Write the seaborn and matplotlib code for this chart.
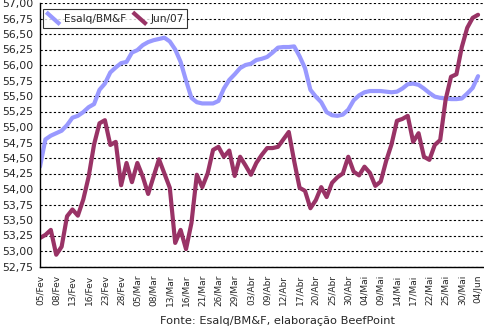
import matplotlib
matplotlib.use("Agg")
import matplotlib.pyplot as plt
import seaborn as sns
import pandas as pd
import numpy as np
from matplotlib.lines import Line2D
from matplotlib.legend_handler import HandlerBase

# ---- data ----
tick_labels = ["05/Fev", "08/Fev", "13/Fev", "16/Fev", "23/Fev", "28/Fev", "05/Mar",
               "08/Mar", "13/Mar", "16/Mar", "21/Mar", "26/Mar", "29/Mar", "03/Abr",
               "09/Abr", "12/Abr", "17/Abr", "20/Abr", "25/Abr", "30/Abr", "04/Mai",
               "09/Mai", "14/Mai", "17/Mai", "22/Mai", "25/Mai", "30/Mai", "04/Jun"]

esalq = [54.36, 54.80, 54.86, 54.90, 54.94, 55.03, 55.15, 55.18, 55.24, 55.32,
         55.37, 55.60, 55.70, 55.88, 55.96, 56.03, 56.05, 56.20, 56.24, 56.32,
         56.37, 56.40, 56.42, 56.44, 56.38, 56.25, 56.05, 55.75, 55.47, 55.40,
         55.38, 55.38, 55.38, 55.42, 55.62, 55.76, 55.85, 55.95, 56.00, 56.02,
         56.08, 56.10, 56.13, 56.20, 56.28, 56.29, 56.29, 56.30, 56.14, 55.95,
         55.60, 55.49, 55.40, 55.24, 55.19, 55.18, 55.20, 55.28, 55.43, 55.51,
         55.56, 55.58, 55.58, 55.58, 55.57, 55.56, 55.57, 55.62, 55.69, 55.70,
         55.68, 55.62, 55.55, 55.49, 55.47, 55.46, 55.45, 55.45, 55.46, 55.54,
         55.63, 55.82]

jun07 = [53.21, 53.26, 53.34, 52.94, 53.07, 53.56, 53.67, 53.57, 53.83, 54.20,
         54.72, 55.06, 55.11, 54.71, 54.76, 54.06, 54.42, 54.11, 54.42, 54.20,
         53.92, 54.20, 54.48, 54.25, 54.02, 53.13, 53.34, 53.03, 53.45, 54.23,
         54.03, 54.25, 54.63, 54.68, 54.52, 54.62, 54.21, 54.52, 54.38, 54.23,
         54.42, 54.55, 54.66, 54.66, 54.68, 54.80, 54.92, 54.45, 54.02, 53.97,
         53.69, 53.82, 54.03, 53.87, 54.10, 54.19, 54.25, 54.52, 54.28, 54.22,
         54.36, 54.26, 54.05, 54.12, 54.45, 54.72, 55.10, 55.13, 55.18, 54.76,
         54.90, 54.52, 54.47, 54.71, 54.79, 55.44, 55.81, 55.85, 56.29, 56.60,
         56.76, 56.81]

y_ticks = [52.75, 53.00, 53.25, 53.50, 53.75, 54.00, 54.25, 54.50, 54.75,
           55.00, 55.25, 55.50, 55.75, 56.00, 56.25, 56.50, 56.75, 57.00]

series_names = ["Esalq/BM&F", "Jun/07"]
colors = ["#9999FF", "#993366"]

# ---- figure ----
sns.set_style("white")
plt.rcParams['font.family'] = ['DejaVu Sans']

fig = plt.figure(figsize=(4.84, 3.27), dpi=100)
ax = fig.add_axes([40 / 484, 1 - 266.5 / 327, 444 / 484, 263.5 / 327])

idx = np.arange(len(esalq))
df = pd.DataFrame({"idx": np.concatenate([idx, idx]),
                   "value": esalq + jun07,
                   "serie": [series_names[0]] * len(esalq) + [series_names[1]] * len(jun07)})

sns.lineplot(data=df, x="idx", y="value", hue="serie", palette=colors,
             hue_order=series_names, linewidth=3.0, ax=ax, legend=False)

ax.set_xlim(0, 82.1)
ax.set_ylim(52.75, 57.0)

# gridlines
ax.set_yticks(y_ticks)
ax.set_yticklabels([f"{v:.2f}".replace(".", ",") for v in y_ticks], fontsize=7.8)
ax.yaxis.grid(True, color="black", linestyle=(0, (2, 2)), linewidth=0.8)
ax.xaxis.grid(False)
ax.set_axisbelow(True)

xt = list(range(len(esalq)))
ax.set_xticks(xt)
labels = []
k = 0
for i in xt:
    if i % 3 == 0 and k < len(tick_labels):
        labels.append(tick_labels[k]); k += 1
    else:
        labels.append("")
ax.set_xticklabels(labels, rotation=90, fontsize=6.5)

ax.tick_params(axis="x", direction="out", length=4, width=0.8, color="black", pad=2)
ax.tick_params(axis="y", direction="out", length=4, width=0.8, color="black", pad=1)
ax.set_xlabel("")
ax.set_ylabel("")

for s in ["top", "right"]:
    ax.spines[s].set_visible(False)
for s in ["left", "bottom"]:
    ax.spines[s].set_color("black")
    ax.spines[s].set_linewidth(1.0)


class DiagHandler(HandlerBase):
    def create_artists(self, legend, orig_handle, xdescent, ydescent, width, height, fontsize, trans):
        x0, y0 = -xdescent, -ydescent
        ln = Line2D([x0, x0 + width], [y0 + height, y0], color=orig_handle.get_color(),
                    linewidth=orig_handle.get_linewidth(), solid_capstyle="butt")
        ln.set_transform(trans)
        return [ln]


handles = [Line2D([], [], color=c, linewidth=3.0) for c in colors]
leg = ax.legend(handles, series_names, loc="upper left", bbox_to_anchor=(0.007, 0.977),
                ncol=2, fontsize=7.6, frameon=True, fancybox=False, shadow=False,
                handlelength=1.3, handleheight=1.4, handletextpad=0.4, columnspacing=0.6,
                borderpad=0.3, borderaxespad=0.0,
                handler_map={Line2D: DiagHandler()})
leg.get_frame().set_edgecolor("black")
leg.get_frame().set_linewidth(0.8)

fig.text(278 / 484, 1 - 321 / 327, "Fonte: Esalq/BM&F, elaboração BeefPoint",
         ha="center", va="center", fontsize=8.2)

fig.savefig("out.png", dpi=100, facecolor="white")
